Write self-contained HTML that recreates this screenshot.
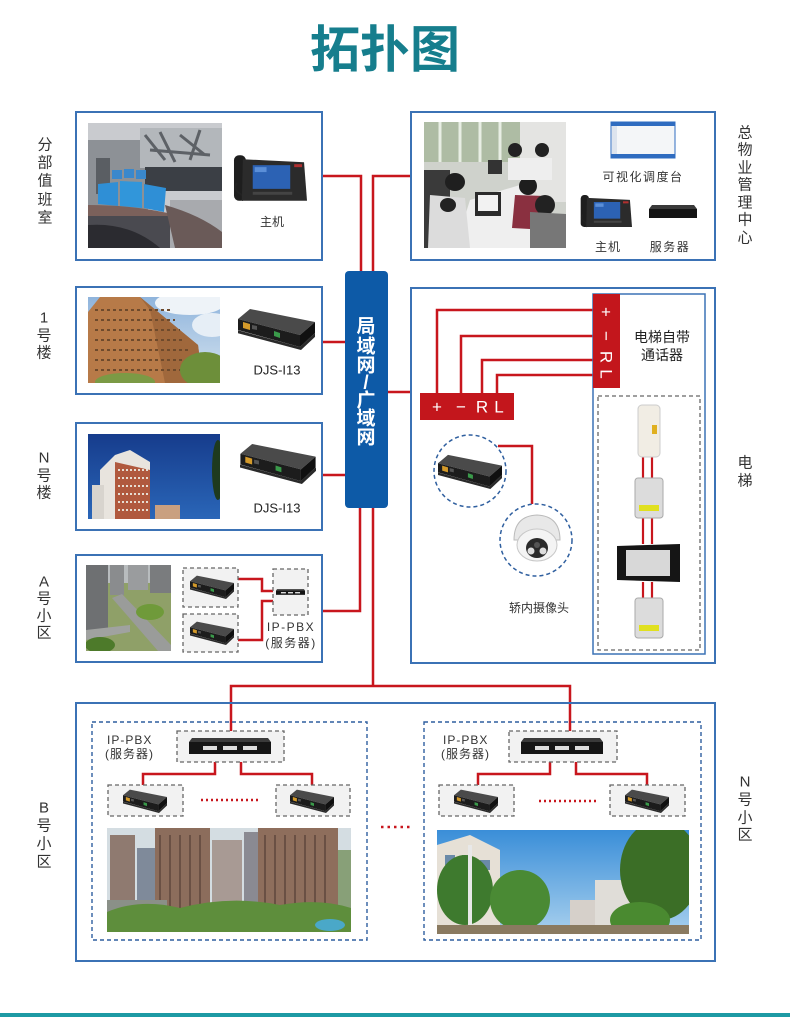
<!DOCTYPE html>
<html><head><meta charset="utf-8">
<style>
html,body{margin:0;padding:0;background:#fff;}
svg{display:block;}
text{font-family:"Liberation Sans","Noto Sans CJK SC",sans-serif;}
</style></head><body>
<svg width="790" height="1017" viewBox="0 0 790 1017" xmlns="http://www.w3.org/2000/svg">
<defs>
 <symbol id="djs" viewBox="0 0 77 42">
  <polygon points="-1,22 62,39 77,25 78,28 63,42 -1,25" fill="#2a2a2a"/>
  <polygon points="0,11 12,1 77,14 62,27" fill="#4a4a4a"/>
  <polygon points="0,11 62,27 62,39 0,22" fill="#1c1c1c"/>
  <polygon points="62,27 77,14 77,25 62,39" fill="#101010"/>
  <polygon points="5,14 12,16 12,22 5,20" fill="#d49a2a"/>
  <polygon points="14,17 19,18 19,22 14,21" fill="#555"/>
  <polygon points="36,23 42,25 42,30 36,28" fill="#3a9a4a"/>
 </symbol>
 <symbol id="phone" viewBox="0 0 75 50">
  <rect x="1" y="2" width="12" height="46" rx="5" fill="#1e1e1e"/>
  <path d="M4,30 q-4,6 2,10 q5,3 3,8" stroke="#222" stroke-width="2" fill="none"/>
  <polygon points="10,6 72,9 75,48 9,48" fill="#2b2b2b"/>
  <rect x="20" y="12" width="38" height="24" fill="#2c62b4"/>
  <rect x="22" y="14" width="12" height="5" fill="#5b8fd8"/>
  <rect x="20" y="39" width="40" height="3" fill="#444"/>
  <rect x="62" y="11" width="8" height="3" fill="#b03030"/>
 </symbol>
 <symbol id="pbx" viewBox="0 0 82 16">
  <polygon points="3,0 79,0 82,4 0,4" fill="#3a3a3a"/>
  <rect x="0" y="4" width="82" height="12" fill="#151515"/>
  <rect x="14" y="8" width="14" height="4" fill="#ddd"/>
  <rect x="34" y="8" width="14" height="4" fill="#ddd"/>
  <rect x="54" y="8" width="14" height="4" fill="#ddd"/>
 </symbol>
 <clipPath id="p1"><rect x="88" y="123" width="134" height="125"/></clipPath>
 <clipPath id="p2"><rect x="424" y="122" width="142" height="126"/></clipPath>
 <clipPath id="p3"><rect x="88" y="297" width="132" height="86"/></clipPath>
 <clipPath id="p4"><rect x="88" y="434" width="132" height="85"/></clipPath>
 <clipPath id="p5"><rect x="86" y="565" width="85" height="86"/></clipPath>
 <clipPath id="p6"><rect x="107" y="828" width="244" height="104"/></clipPath>
 <clipPath id="p7"><rect x="437" y="830" width="252" height="104"/></clipPath>
 <linearGradient id="sky1" x1="0" y1="0" x2="0" y2="1"><stop offset="0" stop-color="#8fb4dc"/><stop offset="1" stop-color="#d6e4f0"/></linearGradient>
 <linearGradient id="sky2" x1="0" y1="0" x2="0" y2="1"><stop offset="0" stop-color="#163c8c"/><stop offset="1" stop-color="#2a66b8"/></linearGradient>
 <linearGradient id="sky3" x1="0" y1="0" x2="0" y2="1"><stop offset="0" stop-color="#3a8ed8"/><stop offset="1" stop-color="#a8d0ee"/></linearGradient>
</defs>

<!-- Title -->
<text x="385" y="50" font-size="50" font-weight="bold" fill="#167e8d" text-anchor="middle" dominant-baseline="central">拓扑图</text>

<!-- red connectors -->
<g stroke="#c8161d" stroke-width="2.5" fill="none">
 <polyline points="322,176 361,176 361,272"/>
 <polyline points="411,176 373,176 373,272"/>
 <line x1="345" y1="342" x2="322" y2="342"/>
 <line x1="345" y1="475" x2="322" y2="475"/>
 <polyline points="360,508 360,611 322,611"/>
 <line x1="388" y1="392" x2="411" y2="392"/>
 <line x1="373" y1="508" x2="373" y2="686"/>
 <polyline points="231,731 231,686 570,686 570,731"/>
 <polyline points="437,393 437,310 593,310"/>
 <polyline points="461,393 461,336 593,336"/>
 <polyline points="482,393 482,360 593,360"/>
 <polyline points="497,393 497,375 593,375"/>
 <polyline points="498,446 532,446 532,504"/>
 <polyline points="238,579 262,579 262,591 273,591"/>
 <polyline points="238,640 262,640 262,601 273,601"/>
 <polyline points="215,762 215,774 143,774 143,785"/>
 <polyline points="241,762 241,774 312,774 312,785"/>
 <polyline points="550,762 550,774 478,774 478,785"/>
 <polyline points="576,762 576,774 647,774 647,785"/>
</g>
<g stroke="#c8161d" stroke-width="2.2">
 <line x1="643" y1="457" x2="643" y2="478"/><line x1="652" y1="457" x2="652" y2="478"/>
 <line x1="643" y1="518" x2="643" y2="544"/><line x1="652" y1="518" x2="652" y2="544"/>
 <line x1="643" y1="582" x2="643" y2="598"/><line x1="652" y1="582" x2="652" y2="598"/>
</g>

<!-- Boxes -->
<g fill="none" stroke="#3b72b5" stroke-width="2">
 <rect x="76" y="112" width="246" height="148"/>
 <rect x="411" y="112" width="304" height="148"/>
 <rect x="76" y="287" width="246" height="107"/>
 <rect x="76" y="423" width="246" height="107"/>
 <rect x="76" y="555" width="246" height="107"/>
 <rect x="411" y="288" width="304" height="375"/>
 <rect x="76" y="703" width="639" height="258"/>
</g>
<rect x="593" y="294" width="112" height="360" fill="none" stroke="#3b72b5" stroke-width="1.5"/>
<rect x="598" y="396" width="102" height="254" fill="none" stroke="#666" stroke-width="1.3" stroke-dasharray="4,3"/>

<!-- central bar -->
<rect x="345" y="271" width="43" height="237" rx="4" fill="#0d5aa7"/>
<g font-size="19" font-weight="bold" fill="#fff" text-anchor="middle" dominant-baseline="central">
 <text x="366" y="327">局</text>
 <text x="366" y="347">域</text>
 <text x="366" y="366">网</text>
 <text x="366" y="383">/</text>
 <text x="366" y="401">广</text>
 <text x="366" y="419">域</text>
 <text x="366" y="438">网</text>
</g>

<!-- side labels -->
<g font-size="15" fill="#333" text-anchor="middle" dominant-baseline="central">
 <text x="45" y="145">分</text><text x="45" y="163">部</text><text x="45" y="181">值</text><text x="45" y="200">班</text><text x="45" y="218">室</text>
 <text x="745" y="133">总</text><text x="745" y="150">物</text><text x="745" y="168">业</text><text x="745" y="185">管</text><text x="745" y="203">理</text><text x="745" y="220">中</text><text x="745" y="238">心</text>
 <text x="44" y="318">1</text><text x="44" y="336">号</text><text x="44" y="353">楼</text>
 <text x="44" y="458">N</text><text x="44" y="476">号</text><text x="44" y="493">楼</text>
 <text x="44" y="582">A</text><text x="44" y="599">号</text><text x="44" y="616">小</text><text x="44" y="633">区</text>
 <text x="745" y="463">电</text><text x="745" y="481">梯</text>
 <text x="44" y="808">B</text><text x="44" y="826">号</text><text x="44" y="844">小</text><text x="44" y="862">区</text>
 <text x="745" y="782">N</text><text x="745" y="800">号</text><text x="745" y="818">小</text><text x="745" y="835">区</text>
</g>

<!-- Photo 1 control room -->
<g clip-path="url(#p1)">
 <rect x="88" y="123" width="134" height="125" fill="#c9cbcf"/>
 <rect x="88" y="140" width="60" height="110" fill="#8d9196"/>
 <rect x="96" y="158" width="14" height="36" fill="#5a5e63"/>
 <rect x="140" y="128" width="82" height="40" fill="#b3b7bb"/>
 <path d="M145,135 l20,25 M160,132 l15,30 M180,135 l25,20 M200,130 l-10,30 M150,150 l60,5" stroke="#5d6166" stroke-width="3"/>
 <rect x="145" y="167" width="77" height="24" fill="#3b3f45"/>
 <rect x="112" y="170" width="10" height="9" fill="#3a88cc"/><rect x="124" y="169" width="10" height="9" fill="#3a88cc"/><rect x="136" y="170" width="10" height="9" fill="#3a88cc"/>
 <polygon points="98,184 118,182 118,206 98,204" fill="#2f8fd6"/>
 <polygon points="120,181 142,182 142,208 120,206" fill="#3196da"/>
 <polygon points="144,184 166,188 164,212 144,208" fill="#2f8fd6"/>
 <path d="M88,205 Q150,205 200,222 L200,232 Q150,215 88,216 Z" fill="#7b615b"/>
 <rect x="88" y="216" width="134" height="32" fill="#4a4a50"/>
 <path d="M88,225 Q130,222 160,248 L88,248 Z" fill="#2b2b30"/>
 <rect x="170" y="200" width="52" height="48" fill="#a8aaae"/>
 <path d="M165,205 Q200,215 222,232 L222,248 L175,248 Z" fill="#6a5a58"/>
</g>

<!-- Photo 2 office -->
<g clip-path="url(#p2)">
 <rect x="424" y="122" width="142" height="126" fill="#cfd2cc"/>
 <rect x="424" y="122" width="142" height="40" fill="#aebca4"/>
 <path d="M440,122 v40 M460,122 v40 M480,122 v40 M500,122 v40" stroke="#e8eee4" stroke-width="3"/>
 <rect x="520" y="122" width="46" height="80" fill="#e4e4e2"/>
 <polygon points="470,200 520,185 566,248 455,248" fill="#efefef"/>
 <rect x="424" y="170" width="26" height="78" fill="#3a3a3a"/>
 <ellipse cx="455" cy="182" rx="10" ry="9" fill="#1f1f1f"/>
 <polygon points="430,195 465,198 470,248 428,248" fill="#dcdcdc"/>
 <ellipse cx="448" cy="205" rx="8" ry="7" fill="#222"/>
 <rect x="475" y="192" width="26" height="24" fill="#2b2b2b"/><rect x="478" y="195" width="20" height="16" fill="#f2f2f2"/>
 <rect x="488" y="160" width="14" height="14" fill="#333"/>
 <ellipse cx="528" cy="186" rx="9" ry="9" fill="#1e1e1e"/>
 <polygon points="515,195 545,196 548,230 512,228" fill="#8a3040"/>
 <ellipse cx="545" cy="205" rx="10" ry="10" fill="#222"/>
 <polygon points="530,212 566,214 566,248 530,248" fill="#777"/>
 <ellipse cx="515" cy="150" rx="7" ry="7" fill="#222"/>
 <ellipse cx="542" cy="150" rx="7" ry="7" fill="#222"/>
 <rect x="508" y="158" width="44" height="22" fill="#eee"/>
</g>

<!-- Photo 3 1号楼 -->
<g clip-path="url(#p3)">
 <rect x="88" y="297" width="132" height="86" fill="url(#sky1)"/>
 <ellipse cx="190" cy="303" rx="35" ry="12" fill="#eef3f8"/>
 <ellipse cx="212" cy="325" rx="20" ry="12" fill="#e6eef6"/>
 <polygon points="88,383 88,312 100,297 140,297 198,345 203,383" fill="#b77a48"/>
 <polygon points="140,297 198,345 203,383 165,383 150,310" fill="#a0683c"/>
 <path d="M95,310 h75 M95,320 h80 M95,330 h85 M95,340 h90 M95,350 h95 M95,360 h100 M95,370 h100" stroke="#6e4a2c" stroke-width="2" stroke-dasharray="3,3"/>
 <ellipse cx="205" cy="370" rx="25" ry="18" fill="#6d8f3a"/>
 <ellipse cx="125" cy="382" rx="30" ry="9" fill="#7b9a45"/>
</g>

<!-- Photo 4 N号楼 -->
<g clip-path="url(#p4)">
 <rect x="88" y="434" width="132" height="85" fill="url(#sky2)"/>
 <polygon points="100,519 100,470 115,455 130,450 150,462 150,519" fill="#e8e4de"/>
 <polygon points="115,519 115,462 150,470 150,519" fill="#b0593e"/>
 <path d="M118,470 h30 M118,478 h30 M118,486 h30 M118,494 h30 M118,502 h30 M118,510 h30" stroke="#e6ddd2" stroke-width="2" stroke-dasharray="2,2"/>
 <rect x="92" y="485" width="12" height="34" fill="#d8d4ce"/>
 <rect x="155" y="505" width="25" height="14" fill="#c9a080"/>
 <ellipse cx="218" cy="470" rx="6" ry="30" fill="#1e3a1e"/>
</g>

<!-- Photo 5 A小区 -->
<g clip-path="url(#p5)">
 <rect x="86" y="565" width="85" height="86" fill="#8fa068"/>
 <rect x="86" y="565" width="85" height="18" fill="#b8bcbe"/>
 <rect x="86" y="565" width="22" height="70" fill="#6e7072"/>
 <rect x="110" y="565" width="14" height="30" fill="#8a8c8e"/>
 <rect x="128" y="565" width="20" height="25" fill="#9a9c9e"/>
 <rect x="150" y="565" width="21" height="28" fill="#7a7c7e"/>
 <polygon points="112,598 122,594 171,645 171,651 158,651" fill="#9a9c9a"/>
 <polygon points="86,630 130,625 130,632 86,640" fill="#a0a2a0"/>
 <ellipse cx="100" cy="645" rx="15" ry="8" fill="#4d7a2a"/>
 <ellipse cx="150" cy="612" rx="14" ry="8" fill="#6f9a3a"/>
</g>

<!-- Devices box 1/2 -->
<use href="#phone" x="233" y="153" width="74" height="50"/>
<text x="272" y="222" font-size="12" fill="#333" text-anchor="middle" dominant-baseline="central">主机</text>

<rect x="611" y="122" width="64" height="36" fill="#f4f6f8" stroke="#2f6cc0" stroke-width="1"/>
<rect x="611" y="122" width="64" height="4" fill="#2f6cc0"/>
<rect x="611" y="154" width="64" height="4" fill="#2f6cc0"/>
<rect x="612" y="126" width="5" height="28" fill="#dde4ee"/>
<text x="643" y="177" font-size="12" fill="#333" text-anchor="middle" dominant-baseline="central" letter-spacing="1.5">可视化调度台</text>
<use href="#phone" x="580" y="193" width="52" height="36"/>
<polygon points="652,205 694,205 697,209 649,209" fill="#3a3a3a"/>
<rect x="649" y="209" width="48" height="9" fill="#141414"/>
<text x="608" y="247" font-size="12" fill="#333" text-anchor="middle" dominant-baseline="central" letter-spacing="1">主机</text>
<text x="670" y="247" font-size="12" fill="#333" text-anchor="middle" dominant-baseline="central" letter-spacing="1.5">服务器</text>

<!-- DJS devices -->
<use href="#djs" x="238" y="308" width="77" height="42"/>
<text x="277" y="370" font-size="13" fill="#222" text-anchor="middle" dominant-baseline="central">DJS-I13</text>
<use href="#djs" x="240" y="443" width="76" height="41"/>
<text x="277" y="508" font-size="13" fill="#222" text-anchor="middle" dominant-baseline="central">DJS-I13</text>

<!-- dashed device boxes -->
<g fill="#f2f2f2" stroke="#666" stroke-width="1.3" stroke-dasharray="4,3">
 <rect x="183" y="568" width="55" height="39"/>
 <rect x="183" y="614" width="55" height="38"/>
 <rect x="273" y="569" width="35" height="46"/>
 <rect x="177" y="731" width="107" height="31"/>
 <rect x="509" y="731" width="108" height="31"/>
 <rect x="108" y="785" width="75" height="31"/>
 <rect x="276" y="785" width="74" height="31"/>
 <rect x="439" y="785" width="75" height="31"/>
 <rect x="610" y="785" width="75" height="31"/>
</g>
<use href="#djs" x="190" y="575" width="44" height="24"/>
<use href="#djs" x="190" y="621" width="44" height="24"/>
<use href="#pbx" x="276" y="588" width="29" height="8"/>
<text x="291" y="627" font-size="12" fill="#333" text-anchor="middle" dominant-baseline="central" letter-spacing="1.5">IP-PBX</text>
<text x="291" y="643" font-size="12" fill="#333" text-anchor="middle" dominant-baseline="central" letter-spacing="1.5">(服务器)</text>

<!-- Elevator red blocks -->
<rect x="420" y="393" width="94" height="27" fill="#c3161c"/>
<g font-size="17" fill="#fff" text-anchor="middle" dominant-baseline="central">
 <text x="437" y="407">+</text><text x="461" y="407">−</text><text x="482" y="407">R</text><text x="499" y="407">L</text>
</g>
<rect x="593" y="294" width="27" height="94" fill="#c3161c"/>
<g font-size="17" fill="#fff" text-anchor="middle" dominant-baseline="central">
 <text x="606" y="312">+</text>
 <text x="606" y="336" transform="rotate(90 606 336)">−</text>
 <text x="606" y="357" transform="rotate(90 606 357)">R</text>
 <text x="606" y="374" transform="rotate(90 606 374)">L</text>
</g>
<text x="662" y="337" font-size="14" fill="#222" text-anchor="middle" dominant-baseline="central">电梯自带</text>
<text x="662" y="355" font-size="14" fill="#222" text-anchor="middle" dominant-baseline="central">通话器</text>

<!-- circles -->
<circle cx="470" cy="471" r="36" fill="#fff" stroke="#2f5f9f" stroke-width="1.5" stroke-dasharray="4,3"/>
<use href="#djs" x="438" y="454" width="64" height="35"/>
<circle cx="536" cy="540" r="36" fill="#fff" stroke="#2f5f9f" stroke-width="1.5" stroke-dasharray="4,3"/>
<path d="M514,540 Q514,516 537,515 Q560,516 560,540 Z" fill="#e8e8e8" stroke="#bbb"/>
<ellipse cx="537" cy="545" rx="20" ry="16" fill="#f4f4f4" stroke="#c8c8c8"/>
<ellipse cx="537" cy="548" rx="11" ry="10" fill="#2a2a2a"/>
<circle cx="531" cy="551" r="3.5" fill="#ddd"/><circle cx="543" cy="551" r="3.5" fill="#ddd"/><circle cx="537" cy="545" r="3" fill="#555"/>
<text x="539" y="608" font-size="12" fill="#333" text-anchor="middle" dominant-baseline="central">轿内摄像头</text>

<!-- elevator devices -->
<rect x="638" y="405" width="22" height="52" rx="4" fill="#f1ede4" stroke="#ccc"/>
<rect x="652" y="425" width="5" height="9" fill="#e0b020"/>
<rect x="635" y="478" width="28" height="40" rx="3" fill="#dcdcdc" stroke="#aaa"/>
<rect x="639" y="505" width="20" height="6" fill="#e0e020"/>
<polygon points="617,546 680,544 680,582 617,580" fill="#151515"/>
<rect x="626" y="550" width="44" height="26" fill="#d8d8d8"/>
<rect x="635" y="598" width="28" height="40" rx="3" fill="#dcdcdc" stroke="#aaa"/>
<rect x="639" y="625" width="20" height="6" fill="#e0e020"/>

<!-- Bottom section -->
<g fill="none" stroke="#2f5f9f" stroke-width="1.4" stroke-dasharray="4,3">
 <rect x="92" y="722" width="275" height="218"/>
 <rect x="424" y="722" width="277" height="218"/>
</g>
<text x="107" y="740" font-size="12" fill="#333" dominant-baseline="central" letter-spacing="1">IP-PBX</text>
<text x="105" y="754" font-size="12" fill="#333" dominant-baseline="central" letter-spacing="1">(服务器)</text>
<text x="443" y="740" font-size="12" fill="#333" dominant-baseline="central" letter-spacing="1">IP-PBX</text>
<text x="441" y="754" font-size="12" fill="#333" dominant-baseline="central" letter-spacing="1">(服务器)</text>
<use href="#pbx" x="189" y="738" width="82" height="16"/>
<use href="#pbx" x="521" y="738" width="82" height="16"/>
<use href="#djs" x="123" y="789" width="44" height="24"/>
<use href="#djs" x="290" y="789" width="44" height="24"/>
<use href="#djs" x="454" y="789" width="44" height="24"/>
<use href="#djs" x="625" y="789" width="44" height="24"/>
<g stroke="#c8161d" stroke-width="2.5" stroke-dasharray="2,3">
 <line x1="201" y1="800" x2="260" y2="800"/>
 <line x1="539" y1="801" x2="597" y2="801"/>
 <line x1="381" y1="827" x2="411" y2="827" stroke-dasharray="2.5,4"/>
</g>

<!-- Photo 6 bottom-left -->
<g clip-path="url(#p6)">
 <rect x="107" y="828" width="244" height="104" fill="#d4dde2"/>
 <rect x="110" y="835" width="25" height="75" fill="#8f7a70"/>
 <rect x="137" y="848" width="18" height="60" fill="#7f8a9a"/>
 <rect x="155" y="828" width="55" height="85" fill="#8c6d5c"/>
 <rect x="212" y="840" width="30" height="70" fill="#a89a94"/>
 <rect x="244" y="832" width="15" height="78" fill="#8a8a92"/>
 <rect x="258" y="828" width="80" height="85" fill="#8e6e5c"/>
 <rect x="338" y="850" width="13" height="60" fill="#88a078"/>
 <path d="M160,835 v75 M170,835 v75 M180,835 v75 M190,835 v75 M200,835 v75 M265,835 v75 M275,835 v75 M285,835 v75 M295,835 v75 M305,835 v75 M315,835 v75 M325,835 v75" stroke="#6a5044" stroke-width="2"/>
 <rect x="107" y="900" width="60" height="32" fill="#8a9088"/>
 <path d="M107,932 L107,912 Q140,898 180,908 Q230,895 280,905 Q320,898 351,908 L351,932 Z" fill="#5e8e3c"/>
 <ellipse cx="330" cy="925" rx="15" ry="6" fill="#4aa8c8"/>
</g>

<!-- Photo 7 bottom-right -->
<g clip-path="url(#p7)">
 <rect x="437" y="830" width="252" height="104" fill="url(#sky3)"/>
 <polygon points="437,845 470,835 500,850 500,934 437,934" fill="#e6e0d6"/>
 <rect x="445" y="855" width="10" height="10" fill="#6a8aa8"/><rect x="462" y="855" width="10" height="10" fill="#6a8aa8"/><rect x="480" y="860" width="10" height="10" fill="#6a8aa8"/>
 <ellipse cx="465" cy="890" rx="28" ry="35" fill="#3e7a2e"/>
 <ellipse cx="520" cy="900" rx="30" ry="30" fill="#4a8a34"/>
 <rect x="468" y="845" width="4" height="89" fill="#e8e8e8"/>
 <rect x="595" y="880" width="35" height="54" fill="#e0ddd8"/>
 <rect x="570" y="900" width="25" height="34" fill="#d6d0ca"/>
 <ellipse cx="660" cy="870" rx="40" ry="50" fill="#3b6e26"/>
 <ellipse cx="640" cy="920" rx="30" ry="18" fill="#4a8a30"/>
 <rect x="437" y="925" width="252" height="9" fill="#8a7a60"/>
</g>

<!-- bottom teal line -->
<rect x="0" y="1013" width="790" height="4" fill="#1d9aa4"/>
</svg>
</body></html>
